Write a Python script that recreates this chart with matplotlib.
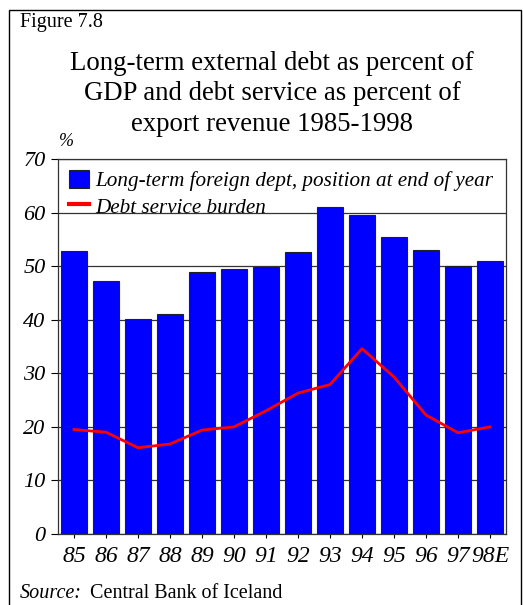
import matplotlib
matplotlib.use("Agg")
import matplotlib.pyplot as plt
from matplotlib.patches import Rectangle, Patch
from matplotlib.lines import Line2D

years = ["85", "86", "87", "88", "89", "90", "91", "92", "93", "94", "95", "96", "97", "98E"]
debt_gdp = [52.8, 47.2, 40.2, 41.1, 49.0, 49.5, 49.8, 52.6, 61.0, 59.5, 55.5, 53.0, 50.0, 51.0]
debt_service = [19.5, 19.0, 16.1, 16.8, 19.4, 20.0, 23.0, 26.3, 27.9, 34.6, 29.3, 22.2, 18.9, 20.0]
yticks = [0, 10, 20, 30, 40, 50, 60, 70]

plt.rcParams['font.family'] = ['Liberation Serif', 'DejaVu Serif']

fig = plt.figure(figsize=(5.23, 6.05), dpi=100)
fig.patch.set_facecolor('white')

# outer frame
fig.patches.append(Rectangle((9/523, -0.01), (521-9)/523, 1 - 10/605 + 0.01,
                             transform=fig.transFigure, fill=False,
                             edgecolor='black', linewidth=1.0))

ax = fig.add_axes([58/523, (605-534)/605, (506-58)/523, (534-159)/605])

x = list(range(len(years)))
ax.bar(x, debt_gdp, width=0.84, color='#0000ff', edgecolor='#202020',
       linewidth=0.8, zorder=3)
ax.plot(x, debt_service, color='#ff0000', linewidth=2.0, zorder=4)

ax.set_xlim(-0.5, len(years) - 0.5)
ax.set_ylim(0, 70)
ax.set_yticks(yticks)
ax.set_yticklabels([str(v) for v in yticks], fontstyle='italic', fontsize=16)
ax.set_xticks(x)
ax.set_xticklabels(years, fontstyle='italic', fontsize=17)
ax.tick_params(axis='y', length=5, width=0.8, pad=4, direction='out')
ax.tick_params(axis='x', length=3, width=0.8, pad=6, direction='out')
ax.yaxis.grid(True, color='#333333', linewidth=0.9, zorder=0)
ax.set_axisbelow(True)
for s in ax.spines.values():
    s.set_linewidth(0.9)
    s.set_color('#333333')

handles = [Patch(facecolor='#0000ff', edgecolor='#202020', linewidth=0.8),
           Line2D([0], [0], color='#ff0000', linewidth=3)]
labels = ["Long-term foreign dept, position at end of year", "Debt service burden"]
leg = ax.legend(handles, labels, loc='upper left', bbox_to_anchor=(0.0, 1.0),
                frameon=False, prop={'style': 'italic', 'size': 15.2},
                handlelength=0.95, handleheight=1.0, handletextpad=0.3,
                labelspacing=0.22, borderaxespad=0.3, borderpad=0.2)

fig.text(20/523, 1 - 22/605, "Figure 7.8", fontsize=14.5, va='center', ha='left')
fig.text(272/523, 1 - 94/605,
         "Long-term external debt as percent of\nGDP and debt service as percent of\nexport revenue 1985-1998",
         fontsize=19.3, ha='center', va='center', linespacing=1.3)
fig.text(66/523, 1 - 142/605, "%", fontsize=13, fontstyle='italic', ha='center', va='center')
fig.text(20/523, 1 - 593/605, "Source:", fontsize=14.5, fontstyle='italic', ha='left', va='center')
fig.text(90/523, 1 - 593/605, "Central Bank of Iceland", fontsize=14.5, ha='left', va='center')

fig.savefig("out.png", dpi=100, facecolor='white')
